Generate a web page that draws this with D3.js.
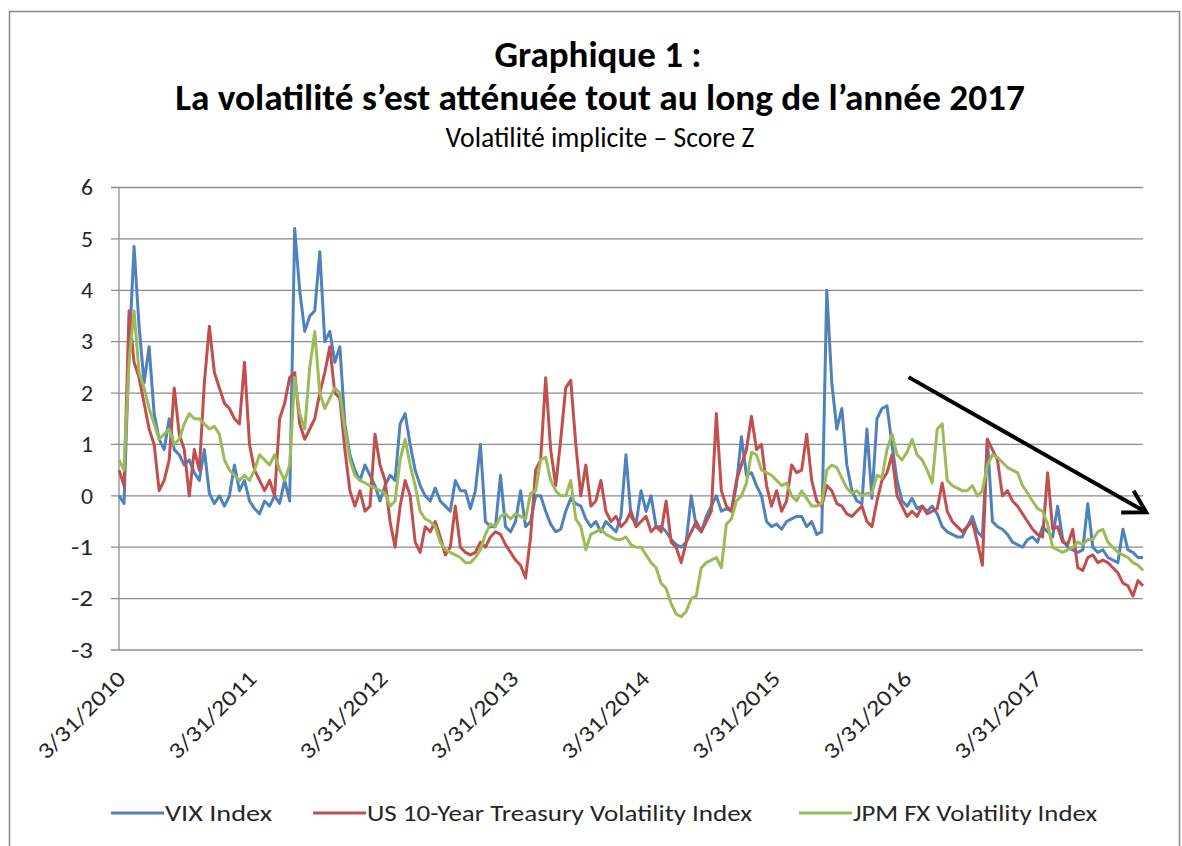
<!DOCTYPE html>
<html><head><meta charset="utf-8">
<script src="https://cdn.jsdelivr.net/npm/d3@7"></script>
<style>
html,body{margin:0;padding:0;background:#fff;}
svg{display:block;}
text{font-family:Carlito, Calibri, Lato, "Open Sans", sans-serif;}
</style></head>
<body><svg id="chart" width="1182" height="846"></svg>
<script>
// ---------------- DATA ----------------
const startDate = "2010-03-31";     // first observation
const stepDays = 14;                // one observation every two weeks
const seriesNames = ["VIX Index", "US 10-Year Treasury Volatility Index", "JPM FX Volatility Index"];
const seriesColors = ["#4F81BD", "#C0504D", "#9BBB59"];
const tickDates = ["2010-03-31","2011-03-31","2012-03-31","2013-03-31","2014-03-31","2015-03-31","2016-03-31","2017-03-31"];
const yTicks = [-3,-2,-1,0,1,2,3,4,5,6];
const titleLines = ["Graphique 1 :", "La volatilité s’est atténuée tout au long de l’année 2017"];
const subtitle = "Volatilité implicite – Score Z";

const vix = [
 0.0,-0.15,2.8,4.85,3.3,2.2,2.9,1.6,1.1,0.9,
 1.5,0.9,0.8,0.6,0.7,0.45,0.3,0.9,0.05,-0.15,
 0.0,-0.2,0.0,0.6,0.1,0.3,-0.1,-0.25,-0.35,-0.1,
 -0.2,0.0,-0.15,0.3,-0.1,
 5.2,4.0,3.2,3.5,3.6,4.75,3.0,3.2,2.6,2.9,
 1.4,0.8,0.5,0.3,0.6,0.4,0.2,-0.1,0.2,0.4,
 0.3,1.4,1.6,1.0,0.5,0.2,0.0,-0.1,0.15,-0.1,
 -0.2,-0.3,0.3,
 0.1,0.1,-0.25,0.1,1.0,-0.5,-0.6,-0.6,0.4,-0.6,
 -0.7,-0.5,0.1,-0.6,-0.5,0.0,0.0,-0.3,-0.55,-0.7,
 -0.65,-0.3,-0.05,-0.15,-0.2,-0.45,-0.6,-0.5,-0.7,-0.5,
 -0.6,-0.7,-0.4,0.8,
 -0.4,-0.55,0.1,-0.3,0.0,-0.6,-0.6,-0.7,-0.85,-0.95,
 -1.0,-0.9,0.0,-0.6,-0.7,-0.4,-0.2,0.0,-0.3,-0.25,
 -0.3,0.2,1.15,0.4,0.45,0.2,0.0,-0.5,-0.6,-0.55,
 -0.65,-0.5,-0.45,-0.4,
 -0.4,-0.6,-0.5,-0.75,-0.7,4.0,2.2,1.3,1.7,0.6,
 0.1,-0.1,-0.15,1.3,-0.05,1.5,1.7,1.75,1.0,0.3,
 -0.1,-0.2,-0.05,-0.25,-0.2,-0.3,-0.2,-0.35,-0.6,-0.7,
 -0.75,-0.8,-0.8,-0.6,
 -0.4,-0.7,-0.8,1.1,-0.5,-0.6,-0.65,-0.75,-0.9,-0.95,
 -1.0,-0.85,-0.8,-0.9,-0.6,-0.7,-0.8,-0.2,-0.85,-1.0,
 -1.05,-1.1,-1.05,-0.15,-1.0,-1.1,-1.05,-1.2,-1.25,-1.3,
 -0.65,-1.05,-1.1,-1.2,-1.2
];
const ust10 = [
 0.5,0.2,3.6,2.6,2.3,1.8,1.3,1.0,0.1,0.3,
 0.7,2.1,1.2,0.9,0.0,0.9,0.5,2.2,3.3,2.4,
 2.1,1.8,1.7,1.5,1.4,2.6,1.0,0.5,0.3,0.1,
 0.3,0.0,1.5,1.8,2.3,
 2.4,1.4,1.1,1.3,1.5,2.0,2.4,2.9,2.0,1.9,
 0.9,0.1,-0.2,0.1,-0.3,-0.2,1.2,0.6,0.3,-0.5,
 -1.0,-0.2,0.3,0.0,-0.9,-1.1,-0.6,-0.7,-0.5,-0.8,
 -1.15,-1.0,-0.2,
 -1.0,-1.1,-1.15,-1.1,-0.9,-1.0,-0.8,-0.7,-0.75,-0.95,
 -1.1,-1.25,-1.35,-1.6,-0.8,0.5,0.7,2.3,0.9,0.2,
 1.1,2.1,2.25,1.0,0.0,0.6,-0.2,-0.1,0.3,-0.3,
 -0.5,-0.4,-0.6,-0.5,
 -0.3,-0.6,-0.5,-0.4,-0.7,-0.6,-0.7,-0.1,-0.9,-1.0,
 -1.3,-0.9,-0.7,-0.5,-0.7,-0.5,-0.3,1.6,0.1,-0.2,
 -0.3,0.3,0.6,0.9,1.55,0.9,1.0,0.2,-0.2,0.1,
 -0.3,-0.1,0.6,0.45,
 0.5,1.2,0.3,-0.1,-0.2,0.2,0.1,-0.15,-0.2,-0.35,
 -0.4,-0.3,-0.2,-0.5,-0.6,-0.1,0.3,0.45,0.8,0.0,
 -0.2,-0.4,-0.3,-0.4,-0.2,-0.35,-0.3,-0.25,0.25,-0.3,
 -0.5,-0.6,-0.7,-0.6,
 -0.5,-0.9,-1.35,1.1,0.9,0.7,0.0,0.1,-0.1,-0.2,
 -0.35,-0.5,-0.65,-0.75,-0.8,0.45,-0.65,-0.6,-0.9,-0.95,
 -0.65,-1.4,-1.45,-1.2,-1.15,-1.3,-1.25,-1.3,-1.4,-1.5,
 -1.7,-1.75,-1.95,-1.65,-1.75
];
const jpmfx = [
 0.7,0.5,2.6,3.6,2.4,2.1,1.7,1.4,1.1,1.2,
 1.3,1.0,1.1,1.4,1.6,1.5,1.5,1.4,1.3,1.35,
 1.2,0.7,0.5,0.4,0.3,0.4,0.3,0.5,0.8,0.7,
 0.6,0.8,0.5,0.3,0.6,
 2.3,1.6,1.3,2.5,3.2,2.0,1.7,1.9,2.1,2.0,
 1.3,0.7,0.4,0.3,0.25,0.2,0.15,0.1,0.05,-0.2,
 -0.1,0.7,1.1,0.6,0.2,-0.3,-0.45,-0.5,-0.6,-0.9,
 -1.05,-1.1,-1.15,
 -1.2,-1.3,-1.3,-1.2,-1.05,-0.75,-0.55,-0.6,-0.4,-0.35,
 -0.45,-0.35,-0.4,-0.45,0.05,0.1,0.7,0.75,0.3,0.1,
 0.0,0.0,0.3,-0.45,-0.6,-1.05,-0.75,-0.7,-0.65,-0.75,
 -0.8,-0.85,-0.85,-0.8,
 -0.95,-1.0,-1.0,-1.15,-1.3,-1.4,-1.7,-1.8,-2.1,-2.3,
 -2.35,-2.25,-2.0,-1.95,-1.4,-1.3,-1.25,-1.2,-1.4,-0.55,
 -0.45,-0.1,0.0,0.25,0.85,0.8,0.5,0.45,0.4,0.3,
 0.2,0.25,0.0,-0.1,
 0.1,-0.05,-0.2,-0.2,-0.15,0.5,0.6,0.55,0.35,0.15,
 0.05,0.1,0.0,0.05,0.05,0.4,0.35,0.9,1.2,0.8,
 0.7,0.85,1.1,0.8,0.7,0.5,0.25,1.3,1.4,0.3,
 0.2,0.15,0.1,0.1,
 0.2,0.0,0.1,0.6,0.8,0.75,0.65,0.55,0.5,0.45,
 0.2,0.05,-0.1,-0.25,-0.3,-0.55,-1.0,-1.05,-1.1,-1.05,
 -1.0,-0.9,-0.95,-0.85,-0.85,-0.7,-0.65,-0.9,-1.0,-1.1,
 -1.15,-1.2,-1.3,-1.35,-1.45
];
// annotation arrow (date, value)
const arrowFrom = ["2016-04-10", 2.31];
const arrowTo = ["2018-02-02", -0.32];

// ---------------- CHART ----------------
const svg = d3.select("#chart");
const parse = d3.utcParse("%Y-%m-%d");
const n = vix.length;
const t0 = parse(startDate);
const dates = d3.range(n).map(i => d3.utcDay.offset(t0, i * stepDays));
const allSeries = [vix, ust10, jpmfx];

const plot = {left: 119, right: 1143, top: 187.5, bottom: 650};
const x = d3.scaleUtc().domain([t0, dates[n - 1]]).range([plot.left, plot.right]);
const y = d3.scaleLinear().domain([-3, 6]).range([plot.bottom, plot.top]);

// border
svg.append("rect").attr("x", 9.5).attr("y", 11.5).attr("width", 1170).attr("height", 840)
  .attr("fill", "none").attr("stroke", "#8a8a8a").attr("stroke-width", 1.5);

// titles
function fit(sel, target) {
  const w = sel.node().getComputedTextLength();
  const fs = parseFloat(sel.attr("font-size"));
  sel.attr("font-size", (fs * target / w).toFixed(2));
}
const t1 = svg.append("text").attr("x", 598).attr("y", 67).attr("text-anchor", "middle")
  .attr("font-weight", "bold").attr("font-size", 27).attr("fill", "#000").text(titleLines[0]);
fit(t1, 207);
const t2 = svg.append("text").attr("x", 600).attr("y", 110).attr("text-anchor", "middle")
  .attr("font-weight", "bold").attr("font-size", 27).attr("fill", "#000").text(titleLines[1]);
fit(t2, 850);
const st = svg.append("text").attr("x", 600).attr("y", 147).attr("text-anchor", "middle")
  .attr("font-size", 17).attr("fill", "#000").text(subtitle);
fit(st, 309);

// gridlines
const gy = svg.append("g");
gy.selectAll("line").data(yTicks).join("line")
  .attr("x1", plot.left - 8).attr("x2", plot.right)
  .attr("y1", d => y(d)).attr("y2", d => y(d))
  .attr("stroke", "#8c8c8c").attr("stroke-width", 1.3);
// y axis line
svg.append("line").attr("x1", plot.left).attr("x2", plot.left)
  .attr("y1", plot.top).attr("y2", plot.bottom).attr("stroke", "#8c8c8c").attr("stroke-width", 1.3);
// y labels
svg.append("g").selectAll("text").data(yTicks).join("text")
  .attr("x", 93).attr("y", d => y(d)).attr("dy", "0.35em").attr("text-anchor", "end")
  .attr("font-size", 22).attr("fill", "#262626")
  .attr("textLength", d => d < 0 ? 22 : 12).attr("lengthAdjust", "spacingAndGlyphs")
  .text(d => d);

// x labels
const fmt = d => (d.getUTCMonth() + 1) + "/" + d.getUTCDate() + "/" + d.getUTCFullYear();
svg.append("g").selectAll("text").data(tickDates.map(parse)).join("text")
  .attr("text-anchor", "end").attr("font-size", 22.5).attr("fill", "#262626")
  .attr("textLength", 114).attr("lengthAdjust", "spacingAndGlyphs")
  .attr("transform", d => `translate(${x(d) + 8},${plot.bottom + 30}) rotate(-45)`)
  .text(fmt);

// series
const line = d3.line().x((d, i) => x(dates[i])).y(d => y(d));
svg.append("g").selectAll("path").data(allSeries).join("path")
  .attr("d", d => line(d)).attr("fill", "none")
  .attr("stroke", (d, i) => seriesColors[i]).attr("stroke-width", 3)
  .attr("stroke-linejoin", "round");

// arrow
const ax1 = x(parse(arrowFrom[0])), ay1 = y(arrowFrom[1]);
const ax2 = x(parse(arrowTo[0])), ay2 = y(arrowTo[1]);
const ang = Math.atan2(ay2 - ay1, ax2 - ax1);
const headLen = 25, spread = Math.PI / 6;
const arrow = svg.append("g").attr("stroke", "#000").attr("stroke-width", 4).attr("stroke-linecap", "butt").attr("fill", "none");
arrow.append("line").attr("x1", ax1).attr("y1", ay1).attr("x2", ax2).attr("y2", ay2);
arrow.append("path").attr("stroke-linejoin", "miter").attr("d",
  `M${ax2 - headLen * Math.cos(ang - spread)},${ay2 - headLen * Math.sin(ang - spread)}L${ax2},${ay2}L${ax2 - headLen * Math.cos(ang + spread)},${ay2 - headLen * Math.sin(ang + spread)}`);

// legend
const legendX = [111, 313, 799];
const legendW = [107, 385, 244];
const lg = svg.append("g");
seriesNames.forEach((name, i) => {
  lg.append("line").attr("x1", legendX[i]).attr("x2", legendX[i] + 53)
    .attr("y1", 813).attr("y2", 813).attr("stroke", seriesColors[i]).attr("stroke-width", 3);
  lg.append("text").attr("x", legendX[i] + 54).attr("y", 813).attr("dy", "0.35em")
    .attr("font-size", 23).attr("fill", "#262626")
    .attr("textLength", legendW[i]).attr("lengthAdjust", "spacingAndGlyphs").text(name);
});
</script></body></html>
